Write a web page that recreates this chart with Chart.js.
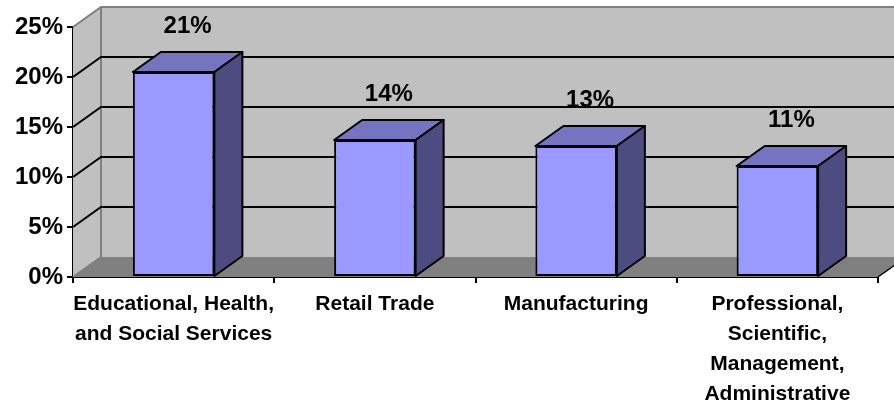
<!DOCTYPE html>
<html><head><meta charset="utf-8">
<script src="https://cdn.jsdelivr.net/npm/chart.js@4/dist/chart.umd.min.js"></script>
<style>html,body{margin:0;padding:0;background:#fff;}canvas{display:block;}</style>
</head><body>
<canvas id="c" width="894" height="400"></canvas>
<script>
// Industry categories (multi-line labels as arrays)
const industries = [
  ["Educational, Health,", "and Social Services"],
  "Retail Trade",
  "Manufacturing",
  ["Professional,", "Scientific,", "Management,", "Administrative"]
];
// Share of employment, percent
const shares = [20.5, 13.7, 13.1, 11.1];
// Value axis ticks, percent
const yTicks = [0, 5, 10, 15, 20, 25];

const DX = 28, DY = -20;           // depth offset of the 3D box
const FONT = '"Liberation Sans", Arial, sans-serif';

const walls3d = {
  id: 'walls3d',
  beforeDatasetsDraw(chart) {
    const { ctx, chartArea: a, scales: { y } } = chart;
    const farRight = chart.width + 40;
    ctx.save();
    // back wall
    ctx.fillStyle = '#c0c0c0';
    ctx.fillRect(a.left + DX, a.top + DY, farRight - a.left - DX, a.bottom - a.top);
    // side wall
    ctx.beginPath();
    ctx.moveTo(a.left, a.top);
    ctx.lineTo(a.left + DX, a.top + DY);
    ctx.lineTo(a.left + DX, a.bottom + DY);
    ctx.lineTo(a.left, a.bottom);
    ctx.closePath();
    ctx.fill();
    // floor
    ctx.fillStyle = '#808080';
    ctx.beginPath();
    ctx.moveTo(a.left, a.bottom);
    ctx.lineTo(a.left + DX, a.bottom + DY);
    ctx.lineTo(a.right + DX, a.bottom + DY);
    ctx.lineTo(a.right, a.bottom);
    ctx.closePath();
    ctx.fill();

    // wall borders
    ctx.strokeStyle = '#808080';
    ctx.lineWidth = 2;
    ctx.beginPath();
    ctx.moveTo(a.left, a.top); ctx.lineTo(a.left + DX, a.top + DY); ctx.lineTo(farRight, a.top + DY);
    ctx.moveTo(a.left + DX, a.top + DY); ctx.lineTo(a.left + DX, a.bottom + DY);
    ctx.moveTo(a.left, a.bottom); ctx.lineTo(a.left + DX, a.bottom + DY);
    ctx.stroke();

    // floor right edge
    ctx.strokeStyle = '#000';
    ctx.lineWidth = 1.5;
    ctx.beginPath();
    ctx.moveTo(a.right, a.bottom); ctx.lineTo(a.right + DX, a.bottom + DY);
    ctx.stroke();

    // gridlines on side and back walls
    ctx.strokeStyle = '#000';
    ctx.lineWidth = 2;
    ctx.beginPath();
    yTicks.slice(1, -1).forEach(v => {
      const py = y.getPixelForValue(v);
      ctx.moveTo(a.left, py);
      ctx.lineTo(a.left + DX, py + DY);
      ctx.lineTo(farRight, py + DY);
    });
    ctx.stroke();
    ctx.restore();
  },
  afterDatasetsDraw(chart) {
    const { ctx } = chart;
    const meta = chart.getDatasetMeta(0);
    const values = chart.data.datasets[0].data;
    ctx.save();
    ctx.lineWidth = 2;
    ctx.strokeStyle = '#000';
    ctx.lineJoin = 'round';
    meta.data.forEach((bar, i) => {
      const { x, y: top, base, width } = bar.getProps(['x', 'y', 'base', 'width'], true);
      const x0 = x - width / 2, x1 = x + width / 2;
      // top face
      ctx.fillStyle = '#7474c0';
      ctx.beginPath();
      ctx.moveTo(x0, top); ctx.lineTo(x0 + DX, top + DY);
      ctx.lineTo(x1 + DX, top + DY); ctx.lineTo(x1, top);
      ctx.closePath(); ctx.fill(); ctx.stroke();
      // side face
      ctx.fillStyle = '#4c4c80';
      ctx.beginPath();
      ctx.moveTo(x1, top); ctx.lineTo(x1 + DX, top + DY);
      ctx.lineTo(x1 + DX, base + DY); ctx.lineTo(x1, base);
      ctx.closePath(); ctx.fill(); ctx.stroke();
      // value label
      ctx.fillStyle = '#000';
      ctx.font = 'bold 24px ' + FONT;
      ctx.textAlign = 'center';
      ctx.textBaseline = 'middle';
      ctx.fillText(Math.round(values[i]) + '%', x + DX / 2, top - 46);
    });
    ctx.restore();
  }
};

new Chart(document.getElementById('c'), {
  type: 'bar',
  data: {
    labels: industries,
    datasets: [{
      data: shares,
      backgroundColor: '#9999ff',
      borderColor: '#000',
      borderWidth: 2,
      borderSkipped: false,
      barPercentage: 0.405,
      categoryPercentage: 1.0
    }]
  },
  options: {
    responsive: false,
    animation: false,
    events: [],
    layout: { padding: { top: 27, right: 16, left: 0, bottom: 0 } },
    plugins: { legend: { display: false }, tooltip: { enabled: false } },
    scales: {
      x: {
        grid: { offset: true, drawOnChartArea: false, drawTicks: true, tickLength: 6, color: '#000', lineWidth: 2 },
        border: { color: '#000', width: 2 },
        ticks: {
          color: '#000', autoSkip: false, maxRotation: 0, minRotation: 0, padding: 6,
          font: { family: FONT, size: 21, weight: 'bold', lineHeight: 1.43 }
        },
        afterFit: s => { s.height = 123; }
      },
      y: {
        min: 0, max: 25,
        afterBuildTicks: s => { s.ticks = yTicks.map(v => ({ value: v })); },
        grid: { drawOnChartArea: false, drawTicks: true, tickLength: 6, color: '#000', lineWidth: 2 },
        border: { color: '#000', width: 2 },
        ticks: {
          color: '#000', padding: 4,
          font: { family: FONT, size: 24, weight: 'bold' },
          callback: v => v + '%'
        },
        afterFit: s => { s.width = 73; }
      }
    }
  },
  plugins: [walls3d]
});
</script>
</body></html>
